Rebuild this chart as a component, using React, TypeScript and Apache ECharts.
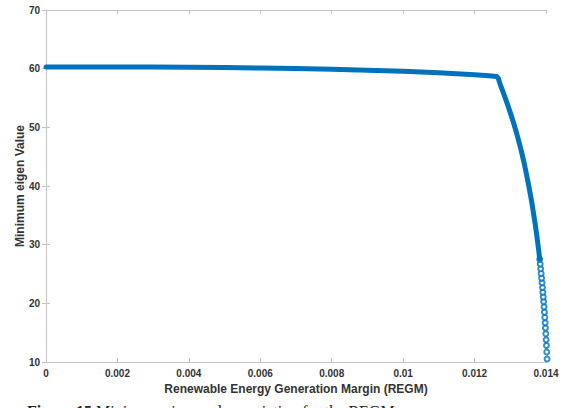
import React, { useEffect, useRef } from "react";
import * as echarts from "echarts";

// Main curve (REGM, minimum eigen value)
const curveX = [0, 0.001, 0.002, 0.003, 0.004, 0.005, 0.006, 0.007, 0.008, 0.009, 0.010, 0.011, 0.012, 0.0124, 0.01262, 0.01266, 0.01272, 0.0128, 0.0129, 0.0130, 0.0131, 0.0132, 0.0133, 0.0134, 0.0135, 0.0136, 0.0137, 0.01375, 0.0138, 0.013824];
const curveY = [60.3, 60.3, 60.3, 60.28, 60.25, 60.2, 60.12, 60.02, 59.9, 59.75, 59.55, 59.3, 58.95, 58.8, 58.65, 58.4, 57.3, 56.0, 54.3, 52.5, 50.6, 48.5, 46.2, 43.6, 40.6, 37.3, 33.4, 31.2, 28.8, 27.5];

// Sparse marker tail near the critical margin
const tailX = [0.01403, 0.014021, 0.014013, 0.014004, 0.013995, 0.013985, 0.013976, 0.013966, 0.013956, 0.013945, 0.013934, 0.013923, 0.013912, 0.013901, 0.013889, 0.013877, 0.013864, 0.013851, 0.013838, 0.013824];
const tailY = [10.5, 11.7, 12.8, 13.8, 14.8, 15.8, 16.7, 17.6, 18.5, 19.4, 20.3, 21.1, 21.9, 22.7, 23.5, 24.3, 25.1, 25.9, 26.7, 27.5];

const xMin = 0, xMax = 0.014, xStep = 0.002;
const yMin = 10, yMax = 70, yStep = 10;

const BLUE = "#0072BD";
const AXIS = "#c4c4c4";
const LABEL = "#333333";
const FONT = "Liberation Sans";

export default function App() {
  const ref = useRef<HTMLDivElement>(null);
  useEffect(() => {
    if (!ref.current) return;
    const chart = echarts.init(ref.current, undefined, { renderer: "svg" });
    const fmtX = (v: number) => String(Number(v.toFixed(3)));
    const baseX = {
      type: "value" as const,
      min: xMin,
      max: xMax,
      interval: xStep,
      splitLine: { show: false },
      axisLine: { show: true, lineStyle: { color: AXIS, width: 1 } },
      axisTick: { show: true, inside: true, length: 4, lineStyle: { color: AXIS } },
    };
    const baseY = {
      type: "value" as const,
      min: yMin,
      max: yMax,
      interval: yStep,
      splitLine: { show: false },
      axisLine: { show: true, lineStyle: { color: AXIS, width: 1 } },
      axisTick: { show: true, inside: true, length: 4, lineStyle: { color: AXIS } },
    };
    chart.setOption({
      animation: false,
      backgroundColor: "#ffffff",
      grid: { left: 46, right: 20, top: 10, bottom: 46, containLabel: false },
      xAxis: [
        {
          ...baseX,
          position: "bottom",
          name: "Renewable Energy Generation Margin (REGM)",
          nameLocation: "middle",
          nameGap: 20,
          nameTextStyle: { fontFamily: FONT, fontSize: 12, fontWeight: "bold", color: LABEL },
          axisLabel: { formatter: fmtX, margin: 6, fontFamily: FONT, fontSize: 10, fontWeight: "bold", color: LABEL },
        },
        { ...baseX, position: "top", axisLabel: { show: false } },
      ],
      yAxis: [
        {
          ...baseY,
          position: "left",
          name: "Minimum eigen Value",
          nameLocation: "middle",
          nameGap: 20,
          nameMoveOverlap: false,
          nameTextStyle: { fontFamily: FONT, fontSize: 12, fontWeight: "bold", color: LABEL },
          axisLabel: { margin: 6, fontFamily: FONT, fontSize: 10, fontWeight: "bold", color: LABEL },
        },
        { ...baseY, position: "right", axisLabel: { show: false } },
      ],
      series: [
        {
          type: "line",
          data: curveX.map((x, i) => [x, curveY[i]]),
          symbol: "none",
          lineStyle: { color: BLUE, width: 5, cap: "round", join: "round" },
          clip: false,
        },
        {
          type: "scatter",
          data: tailX.map((x, i) => [x, tailY[i]]),
          symbol: "emptyCircle",
          symbolSize: 5,
          itemStyle: { color: BLUE, borderWidth: 1.5 },
          clip: false,
        },
      ],
      graphic: [
        {
          type: "text",
          left: 27,
          top: 403,
          style: {
            text: "{b|Figure 15} Minimum eigen value variation for the REGM",
            rich: {
              b: { font: 'bold 16px "Liberation Serif"', fill: "#222" },
            },
            font: '16px "Liberation Serif"',
            fill: "#222",
          },
        },
      ],
    });
    return () => chart.dispose();
  }, []);
  return <div ref={ref} style={{ position: "fixed", left: 0, top: 0, width: 566, height: 408 }} />;
}
